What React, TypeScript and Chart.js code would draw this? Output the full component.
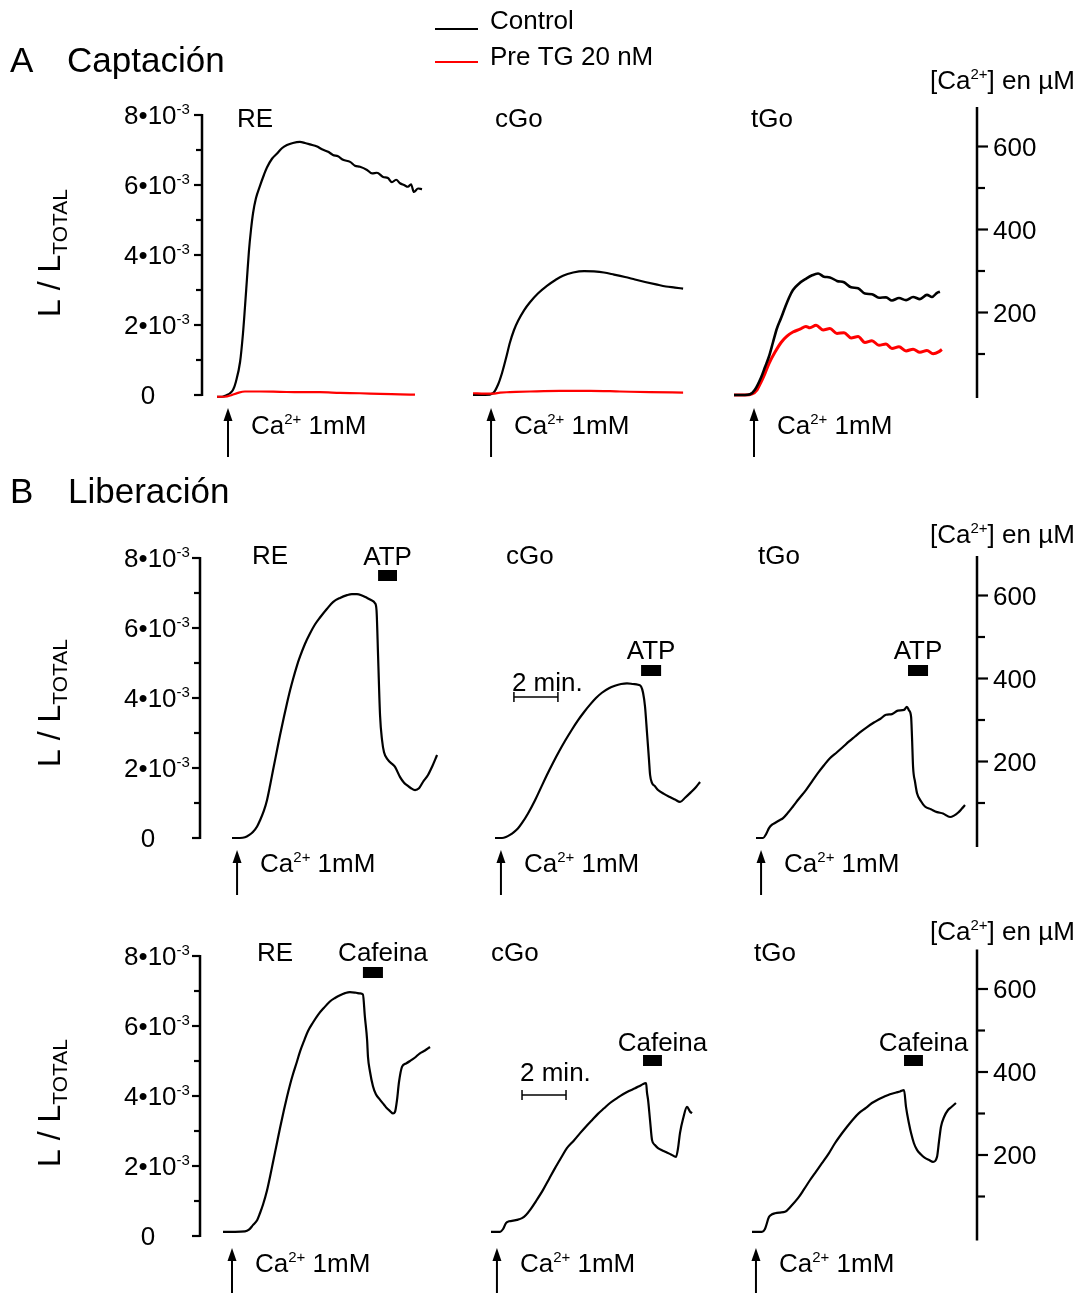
import React, { useEffect, useRef } from "react";
import { Chart, registerables } from "chart.js";
Chart.register(...registerables);

// ---------------- DATA ----------------
// L / L_TOTAL in units of 1e-3; time in minutes from the start of each trace.

// Row A – Captación (Control = black, Pre TG 20 nM = red)
const tA_RE_ctrl = [0,0.23,0.45,0.59,0.73,0.86,1.05,1.18,1.27,1.36,1.45,1.55,1.64,1.77,1.95,2.14,2.27,2.5,2.73,2.95,3.18,3.45,3.77,4.0,4.23,4.55,4.77,5.05,5.27,5.5,5.73,6.05,6.27,6.5,6.82,7.05,7.27,7.55,7.77,7.95,8.14,8.32,8.5,8.68,8.82,8.95,9.14,9.32];
const vA_RE_ctrl = [-0.05,-0.05,0,0.05,0.15,0.38,0.95,1.75,2.5,3.3,4.1,4.75,5.2,5.62,5.97,6.3,6.5,6.75,6.9,7.05,7.14,7.2,7.23,7.2,7.16,7.1,7.02,6.95,6.86,6.82,6.72,6.66,6.55,6.52,6.43,6.33,6.35,6.23,6.2,6.08,6.15,6.05,6.0,5.95,6.02,5.8,5.9,5.88];
const tA_RE_tg = [0,0.36,0.68,0.95,1.27,1.95,2.86,3.77,4.68,5.59,6.5,7.41,8.32,9.0];
const vA_RE_tg = [-0.05,-0.05,0,0.06,0.1,0.1,0.09,0.08,0.08,0.06,0.05,0.03,0.02,0.01];

const tA_cGo_ctrl = [0,0.55,0.91,1.14,1.32,1.5,1.68,1.86,2.05,2.32,2.59,2.95,3.36,3.73,4.09,4.55,5.05,5.5,5.95,6.41,6.91,7.36,7.82,8.32,8.77,9.18,9.55];
const vA_cGo_ctrl = [0,0,0.05,0.3,0.63,1.05,1.5,1.85,2.12,2.42,2.65,2.9,3.12,3.28,3.41,3.5,3.54,3.53,3.5,3.44,3.37,3.3,3.23,3.16,3.1,3.07,3.04];
const tA_cGo_tg = [0,0.55,0.91,1.23,1.68,2.59,3.95,5.32,6.68,8.05,9.55];
const vA_cGo_tg = [0.05,0.04,0.04,0.07,0.08,0.1,0.12,0.12,0.1,0.08,0.07];

const tA_tGo_ctrl = [0,0.5,0.73,0.95,1.23,1.41,1.59,1.77,1.95,2.14,2.32,2.5,2.68,2.95,3.27,3.55,3.82,4.09,4.36,4.68,5.0,5.32,5.64,5.95,6.27,6.59,6.91,7.18,7.5,7.82,8.14,8.45,8.77,9.0,9.23,9.36];
const vA_tGo_ctrl = [0,0,0.02,0.15,0.5,0.8,1.1,1.5,1.9,2.2,2.5,2.78,3.0,3.18,3.32,3.42,3.47,3.38,3.36,3.26,3.22,3.08,3.05,2.9,2.88,2.78,2.79,2.7,2.77,2.71,2.8,2.74,2.86,2.8,2.92,2.95];
const tA_tGo_tg = [0,0.5,0.82,1.05,1.23,1.41,1.59,1.86,2.14,2.41,2.68,3.0,3.27,3.45,3.73,4.05,4.36,4.68,5.0,5.32,5.64,5.95,6.27,6.59,6.91,7.18,7.5,7.82,8.14,8.45,8.77,9.05,9.32,9.45];
const vA_tGo_tg = [0,0,0.03,0.15,0.37,0.62,0.9,1.22,1.5,1.68,1.8,1.88,1.96,1.92,1.99,1.86,1.9,1.76,1.78,1.63,1.67,1.5,1.55,1.42,1.46,1.33,1.38,1.26,1.31,1.22,1.27,1.18,1.24,1.3];

// Row B1 – Liberación, ATP
const tB1_RE = [0,0.36,0.59,0.77,0.95,1.14,1.27,1.45,1.59,1.73,1.86,2.05,2.18,2.36,2.5,2.64,2.77,2.95,3.09,3.32,3.55,3.77,4.0,4.32,4.59,4.91,5.23,5.45,5.68,5.91,6.14,6.32,6.5,6.57,6.64,6.73,6.82,6.91,7.09,7.27,7.41,7.64,7.82,7.95,8.14,8.32,8.5,8.68,8.91,9.09,9.32];
const vB1_RE = [0,0,0.02,0.08,0.17,0.33,0.5,0.78,1.08,1.5,1.92,2.52,2.93,3.46,3.85,4.22,4.53,4.92,5.18,5.55,5.85,6.1,6.3,6.55,6.74,6.86,6.94,6.97,6.97,6.93,6.86,6.8,6.71,6.5,5.2,3.5,2.8,2.45,2.23,2.12,2.03,1.74,1.58,1.51,1.42,1.37,1.42,1.6,1.8,2.03,2.37];
const tB1_cGo = [0,0.32,0.5,0.68,0.86,1.05,1.23,1.5,1.82,2.09,2.36,2.64,2.91,3.18,3.5,3.77,4.05,4.32,4.59,4.86,5.18,5.45,5.73,6.0,6.27,6.5,6.64,6.73,6.82,6.91,7.0,7.05,7.14,7.27,7.41,7.68,7.95,8.18,8.41,8.64,8.91,9.14,9.32];
const vB1_cGo = [0,0,0.03,0.09,0.17,0.28,0.43,0.7,1.08,1.44,1.8,2.15,2.47,2.77,3.1,3.36,3.6,3.81,4.0,4.15,4.28,4.35,4.4,4.42,4.4,4.38,4.33,4.15,3.75,3.0,2.23,1.8,1.57,1.48,1.37,1.26,1.17,1.1,1.03,1.15,1.31,1.46,1.6];
const tB1_tGo = [0,0.32,0.45,0.59,0.73,0.86,1.05,1.23,1.45,1.68,1.95,2.27,2.55,2.82,3.09,3.36,3.68,3.95,4.23,4.5,4.77,5.05,5.36,5.64,5.91,6.18,6.45,6.73,6.86,6.95,7.05,7.09,7.14,7.23,7.32,7.5,7.68,7.95,8.23,8.5,8.82,9.0,9.18,9.36,9.5];
const vB1_tGo = [0,0,0.1,0.28,0.38,0.43,0.5,0.57,0.72,0.9,1.12,1.37,1.62,1.86,2.08,2.28,2.45,2.6,2.76,2.9,3.04,3.17,3.3,3.4,3.52,3.54,3.64,3.66,3.75,3.65,3.46,2.9,2.03,1.6,1.28,1.05,0.9,0.82,0.74,0.7,0.6,0.64,0.72,0.84,0.94];

// Row B2 – Liberación, Cafeína
const tB2_RE = [0,0.55,1.0,1.18,1.36,1.55,1.68,1.82,2.0,2.14,2.27,2.45,2.59,2.77,2.91,3.05,3.18,3.36,3.5,3.68,3.86,4.09,4.32,4.59,4.86,5.09,5.32,5.55,5.77,6.05,6.23,6.36,6.45,6.55,6.59,6.68,6.82,6.95,7.14,7.32,7.45,7.59,7.73,7.82,7.91,8.0,8.14,8.32,8.5,8.73,8.95,9.18,9.41];
const vB2_RE = [0.12,0.12,0.13,0.18,0.31,0.45,0.65,0.9,1.3,1.7,2.1,2.65,3.08,3.6,3.98,4.33,4.62,4.98,5.27,5.57,5.85,6.1,6.32,6.52,6.7,6.8,6.88,6.94,6.97,6.95,6.93,6.9,6.26,5.6,5.12,4.7,4.27,4.05,3.89,3.75,3.65,3.57,3.5,3.55,3.89,4.4,4.84,4.93,5.0,5.1,5.22,5.3,5.4];
const tB2_cGo = [0,0.41,0.55,0.68,0.82,0.95,1.18,1.41,1.59,1.77,2.05,2.36,2.64,2.91,3.18,3.45,3.77,4.05,4.32,4.59,4.86,5.14,5.41,5.73,6.0,6.27,6.55,6.82,7.05,7.09,7.14,7.23,7.32,7.45,7.59,7.77,7.95,8.18,8.41,8.5,8.59,8.73,8.91,9.05,9.14];
const vB2_cGo = [0.12,0.12,0.2,0.37,0.42,0.43,0.46,0.51,0.6,0.74,1.0,1.31,1.63,1.94,2.23,2.51,2.73,2.94,3.13,3.31,3.49,3.65,3.8,3.94,4.05,4.14,4.22,4.31,4.37,4.1,3.89,3.3,2.74,2.6,2.51,2.45,2.4,2.33,2.26,2.5,2.94,3.35,3.69,3.55,3.51];
const tB2_tGo = [0,0.45,0.59,0.77,0.91,1.05,1.27,1.5,1.77,2.09,2.36,2.64,2.91,3.18,3.5,3.77,4.05,4.32,4.59,4.86,5.18,5.45,5.73,6.0,6.27,6.55,6.73,6.91,7.0,7.14,7.23,7.36,7.5,7.68,7.86,8.05,8.23,8.41,8.5,8.59,8.73,8.91,9.09,9.27];
const vB2_tGo = [0.12,0.12,0.2,0.54,0.62,0.65,0.67,0.69,0.85,1.08,1.33,1.6,1.84,2.08,2.37,2.65,2.9,3.12,3.33,3.51,3.66,3.8,3.9,3.98,4.05,4.1,4.13,4.17,3.69,3.2,2.94,2.65,2.46,2.33,2.23,2.17,2.12,2.26,2.7,3.12,3.4,3.6,3.7,3.8];

const panelNames = ["RE", "cGo", "tGo"];
const leftMajorTicks = [0, 2, 4, 6, 8];
const leftMinorTicks = [1, 3, 5, 7];
const caMajorTicks = [200, 400, 600];
const caMinorTicks = [100, 300, 500];
// Ca2+ addition time (min, per panel)
const caAddA = [0.5, 0.82, 0.91];
const caAddB1 = [0.23, 0.27, 0.23];
const caAddB2 = [0.41, 0.27, 0.18];
// drug application windows (min, per panel)
const atpWindows = [[6.64, 7.5], [6.64, 7.55], [6.91, 7.82]];
const cafWindows = [[6.36, 7.27], [6.91, 7.77], [6.91, 7.77]];
const scaleBarMin = 2;

// ---------------- LAYOUT ----------------
const W = 1087, H = 1293;
const PX_PER_MIN = 22;
const PX_PER_UNIT = 35;
const PX_PER_UM = 0.415;
const FONT = '"Liberation Sans", Arial, Helvetica, sans-serif';
const RIGHT_AXIS_X = 977;

type Row = {
  id: string; zero: number; rZero: number; axisX: number; starts: number[];
  labelX: number[]; labelY: number; caTitleY: number; arrowTop: number; arrowBottom: number;
  caTextY: number; titleY: number; caAdd: number[];
  drug?: { label: string; windows: number[][]; barY: number[]; textY: number[]; textDx: number };
  scaleBar?: { t0: number; y: number; textY: number };
};

const ROWS: Row[] = [
  { id: "A", zero: 395, rZero: 395.5, axisX: 202, starts: [217, 473, 734], labelX: [237, 495, 751], labelY: 118,
    caTitleY: 80, arrowTop: 408, arrowBottom: 457, caTextY: 425, titleY: 253, caAdd: caAddA },
  { id: "B1", zero: 838, rZero: 844.5, axisX: 200, starts: [232, 495, 756], labelX: [252, 506, 758], labelY: 555,
    caTitleY: 534, arrowTop: 850, arrowBottom: 895, caTextY: 863, titleY: 703, caAdd: caAddB1,
    drug: { label: "ATP", windows: atpWindows, barY: [570, 665, 665], textY: [556, 650, 650], textDx: 0 },
    scaleBar: { t0: 0.86, y: 697, textY: 682 } },
  { id: "B2", zero: 1236, rZero: 1238, axisX: 200, starts: [223, 491, 752], labelX: [257, 491, 754], labelY: 952,
    caTitleY: 931, arrowTop: 1248, arrowBottom: 1293, caTextY: 1263, titleY: 1103, caAdd: caAddB2,
    drug: { label: "Cafeina", windows: cafWindows, barY: [967, 1055, 1055], textY: [952, 1042, 1042], textDx: 10 },
    scaleBar: { t0: 1.41, y: 1095, textY: 1072 } },
];

type Part = [string, number, number];
function rich(ctx: CanvasRenderingContext2D, parts: Part[], x: number, base: number, align: "left" | "center" | "right" = "left") {
  let total = 0;
  const ws = parts.map(([t, s]) => { ctx.font = `${s}px ${FONT}`; const w = ctx.measureText(t).width; total += w; return w; });
  let cx = align === "center" ? x - total / 2 : align === "right" ? x - total : x;
  ctx.textAlign = "left";
  ctx.textBaseline = "alphabetic";
  parts.forEach(([t, s, dy], i) => { ctx.font = `${s}px ${FONT}`; ctx.fillText(t, cx, base + dy); cx += ws[i]; });
}
const base = (cy: number, size: number) => cy + size * 0.36;

function seg(ctx: CanvasRenderingContext2D, x1: number, y1: number, x2: number, y2: number, w: number) {
  ctx.lineWidth = w;
  ctx.beginPath(); ctx.moveTo(x1, y1); ctx.lineTo(x2, y2); ctx.stroke();
}

const figurePlugin = {
  id: "figure",
  afterDatasetsDraw(chart: any) {
    const ctx: CanvasRenderingContext2D = chart.ctx;
    const xs = chart.scales.x;
    ctx.save();
    ctx.fillStyle = "#000";
    ctx.strokeStyle = "#000";
    ctx.lineCap = "butt";

    // section headers
    rich(ctx, [["A", 35, 0]], 10, 72);
    rich(ctx, [["Captación", 35, 0]], 67, 72);
    rich(ctx, [["B", 35, 0]], 10, 503);
    rich(ctx, [["Liberación", 35, 0]], 68, 503);

    // legend
    ctx.strokeStyle = "#000"; seg(ctx, 435, 29, 478, 29, 2);
    ctx.strokeStyle = "#ff0000"; seg(ctx, 435, 62, 478, 62, 2);
    ctx.strokeStyle = "#000";
    rich(ctx, [["Control", 26, 0]], 490, base(20, 26));
    rich(ctx, [["Pre TG 20 nM", 26, 0]], 490, base(56, 26));

    ROWS.forEach((row) => {
      const yl = chart.scales["y" + row.id];
      const yr = chart.scales["r" + row.id];
      // left axis
      const ax = row.axisX;
      seg(ctx, ax, yl.getPixelForValue(8) - 1, ax, yl.getPixelForValue(0) + 1, 2.5);
      leftMajorTicks.forEach((v) => {
        const py = yl.getPixelForValue(v);
        seg(ctx, ax - 8, py, ax, py, 2.2);
        if (v === 0) rich(ctx, [["0", 26, 0]], 148, base(py, 26), "center");
        else rich(ctx, [[`${v}•10`, 26, 0], ["-3", 15, -10]], 157, base(py, 26), "center");
      });
      leftMinorTicks.forEach((v) => { const py = yl.getPixelForValue(v); seg(ctx, ax - 6, py, ax, py, 2.2); });
      // left title
      ctx.save();
      ctx.translate(60, row.titleY);
      ctx.rotate(-Math.PI / 2);
      rich(ctx, [["L / L", 32, 0], ["TOTAL", 21, 7]], 0, 0, "center");
      ctx.restore();

      // right axis
      const rx = RIGHT_AXIS_X;
      seg(ctx, rx, yr.getPixelForValue(695), rx, yr.getPixelForValue(-6), 2.5);
      caMajorTicks.forEach((v) => {
        const py = yr.getPixelForValue(v);
        seg(ctx, rx, py, rx + 11, py, 2.2);
        rich(ctx, [[String(v), 26, 0]], rx + 16, base(py, 26));
      });
      caMinorTicks.forEach((v) => { const py = yr.getPixelForValue(v); seg(ctx, rx, py, rx + 8, py, 2.2); });
      rich(ctx, [["[Ca", 26, 0], ["2+", 15, -10], ["] en µM", 26, 0]], 930, base(row.caTitleY, 26));

      // panels
      row.starts.forEach((sPx, i) => {
        const off = sPx / PX_PER_MIN;
        rich(ctx, [[panelNames[i], 26, 0]], row.labelX[i], base(row.labelY, 26));
        // Ca2+ arrow
        const axp = xs.getPixelForValue(off + row.caAdd[i]);
        seg(ctx, axp, row.arrowBottom, axp, row.arrowTop + 8, 2);
        ctx.beginPath();
        ctx.moveTo(axp, row.arrowTop);
        ctx.lineTo(axp - 4.5, row.arrowTop + 13);
        ctx.lineTo(axp + 4.5, row.arrowTop + 13);
        ctx.closePath(); ctx.fill();
        rich(ctx, [["Ca", 26, 0], ["2+", 15, -10], [" 1mM", 26, 0]], axp + 23, base(row.caTextY, 26));
        // drug bar
        if (row.drug) {
          const [a, b] = row.drug.windows[i];
          const x1 = xs.getPixelForValue(off + a), x2 = xs.getPixelForValue(off + b);
          ctx.fillRect(x1, row.drug.barY[i], x2 - x1, 11);
          rich(ctx, [[row.drug.label, 26, 0]], (x1 + x2) / 2 + row.drug.textDx, base(row.drug.textY[i], 26), "center");
        }
        // scale bar on cGo panel
        if (row.scaleBar && i === 1) {
          const x1 = xs.getPixelForValue(off + row.scaleBar.t0);
          const x2 = xs.getPixelForValue(off + row.scaleBar.t0 + scaleBarMin);
          const y = row.scaleBar.y;
          seg(ctx, x1, y, x2, y, 1.5);
          seg(ctx, x1, y - 5, x1, y + 5, 1.5);
          seg(ctx, x2, y - 5, x2, y + 5, 1.5);
          rich(ctx, [[`${scaleBarMin} min.`, 26, 0]], x1 - 2, base(row.scaleBar.textY, 26));
        }
      });
    });
    ctx.restore();
  },
};

function mk(t: number[], v: number[], startPx: number, yId: string, color: string, width = 2.2) {
  const off = startPx / PX_PER_MIN;
  return {
    type: "line" as const,
    data: t.map((tt, i) => ({ x: off + tt, y: v[i] })),
    borderColor: color,
    borderWidth: width,
    pointRadius: 0,
    tension: 0,
    cubicInterpolationMode: "monotone" as const,
    borderJoinStyle: "round" as const,
    yAxisID: yId,
    xAxisID: "x",
  };
}

function yScale(zero: number, ppu: number) {
  const max = zero / ppu;
  return { type: "linear" as const, display: false, min: max - H / ppu, max };
}

export default function App() {
  const ref = useRef<HTMLCanvasElement>(null);
  useEffect(() => {
    if (!ref.current) return;
    const [A, B1, B2] = ROWS;
    const RED = "#ff0000";
    const chart = new Chart(ref.current, {
      type: "line",
      data: {
        datasets: [
          mk(tA_RE_tg, vA_RE_tg, A.starts[0], "yA", RED),
          mk(tA_RE_ctrl, vA_RE_ctrl, A.starts[0], "yA", "#000"),
          mk(tA_cGo_tg, vA_cGo_tg, A.starts[1], "yA", RED),
          mk(tA_cGo_ctrl, vA_cGo_ctrl, A.starts[1], "yA", "#000"),
          mk(tA_tGo_ctrl, vA_tGo_ctrl, A.starts[2], "yA", "#000", 2.6),
          mk(tA_tGo_tg, vA_tGo_tg, A.starts[2], "yA", RED, 3),
          mk(tB1_RE, vB1_RE, B1.starts[0], "yB1", "#000"),
          mk(tB1_cGo, vB1_cGo, B1.starts[1], "yB1", "#000"),
          mk(tB1_tGo, vB1_tGo, B1.starts[2], "yB1", "#000"),
          mk(tB2_RE, vB2_RE, B2.starts[0], "yB2", "#000"),
          mk(tB2_cGo, vB2_cGo, B2.starts[1], "yB2", "#000"),
          mk(tB2_tGo, vB2_tGo, B2.starts[2], "yB2", "#000"),
        ],
      },
      options: {
        responsive: false,
        maintainAspectRatio: false,
        animation: false,
        events: [],
        layout: { padding: 0 },
        plugins: { legend: { display: false }, tooltip: { enabled: false }, title: { display: false } },
        scales: {
          x: { type: "linear", display: false, min: 0, max: W / PX_PER_MIN },
          yA: yScale(A.zero, PX_PER_UNIT),
          yB1: yScale(B1.zero, PX_PER_UNIT),
          yB2: yScale(B2.zero, PX_PER_UNIT),
          rA: yScale(A.rZero, PX_PER_UM),
          rB1: yScale(B1.rZero, PX_PER_UM),
          rB2: yScale(B2.rZero, PX_PER_UM),
        },
      },
      plugins: [figurePlugin],
    } as any);
    return () => chart.destroy();
  }, []);
  return (
    <div style={{ position: "absolute", left: 0, top: 0, width: W, height: H, background: "#fff" }}>
      <canvas ref={ref} width={W} height={H} style={{ display: "block", width: W, height: H }} />
    </div>
  );
}
